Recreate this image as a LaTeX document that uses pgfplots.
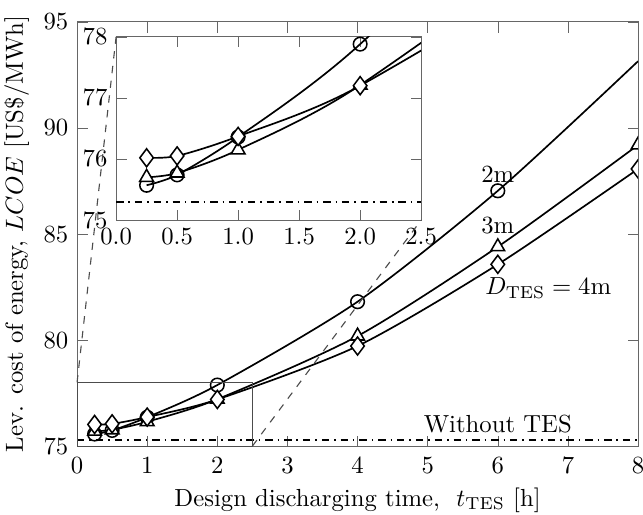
\documentclass[border=0pt]{standalone}
\usepackage{pgfplots}
\pgfplotsset{compat=1.18}

% LCOE versus design discharging time for three tank diameters
\pgfplotstableread{
t     lcoe
0.25  75.57
0.5   75.74
1.0   76.36
2.0   77.88
4.0   81.81
6.0   87.04
8.0   93.15
}\dtwo
\pgfplotstableread{
t     lcoe
0.25  75.70
0.5   75.77
1.0   76.15
2.0   77.21
4.0   80.19
6.0   84.40
8.0   89.20
}\dthree
\pgfplotstableread{
t     lcoe
0.25  76.02
0.5   76.05
1.0   76.37
2.0   77.20
4.0   79.72
6.0   83.57
8.0   88.07
}\dfour

\pgfplotsset{
  curve/.style={black, line width=0.68pt, smooth, tension=0.45,
    mark options={solid, fill=white, line width=0.62pt}},
  c2/.style={curve, mark=o, mark size=2.75pt, mark indices={1,2,3,4,5,6}},
  c3/.style={curve, mark=triangle*, mark size=3.2pt},
  c4/.style={curve, mark=diamond*, mark size=3.65pt},
}

\begin{document}
\begin{tikzpicture}
\begin{axis}[
  name=main,
  scale only axis,
  width=227.1pt, height=171.7pt,
  xmin=0, xmax=8, ymin=75, ymax=95,
  xtick={0,...,8}, ytick={75,80,...,95},
  axis line style={black!60},
  tick style={black!60},
  xticklabel style={yshift=-1pt},
  xlabel={Design discharging time,\ \ $t_{\mathrm{TES}}$ [h]},
  ylabel={Lev. cost of energy, $LCOE$ [US\$/MWh]},
  xlabel style={yshift=1pt},
  ylabel style={yshift=-1pt},
  clip=true,
  clip marker paths=true,
]
\addplot[black, line width=0.62pt, dash dot] coordinates {(0,75.3) (8,75.3)};
\addplot[c2] table {\dtwo};
\addplot[c3] table {\dthree};
\addplot[c4] table {\dfour};
\draw[black!70, line width=0.45pt] (axis cs:0,75) rectangle (axis cs:2.5,78);
\coordinate (zA) at (axis cs:0,78);
\coordinate (zB) at (axis cs:2.5,75);
\coordinate (O) at (rel axis cs:0,0);
\node at (axis cs:6.0,87.8) {2m};
\node at (axis cs:6.0,85.4) {3m};
\node at (axis cs:6.72,82.45) {$D_{\mathrm{TES}}=4\mathrm{m}$};
\node at (axis cs:6.0,76.05) {Without TES};
\end{axis}

\begin{axis}[
  at={(15.8pt,91.5pt)}, anchor=south west,
  scale only axis,
  width=123.5pt, height=74.2pt,
  xmin=0, xmax=2.5, ymin=75, ymax=78,
  xtick={0,0.5,...,2.5}, ytick={75,76,77,78},
  xticklabel style={/pgf/number format/.cd, fixed, fixed zerofill, precision=1},
  axis background/.style={fill=white},
  axis line style={black!60},
  tick style={black!60},
  clip=true,
]
\addplot[black, line width=0.62pt, dash dot] coordinates {(0,75.3) (2.5,75.3)};
\addplot[c2, mark=o, mark indices={}] table {\dtwo};
\addplot[c3] table {\dthree};
\addplot[c4] table {\dfour};
\coordinate (iA) at (axis cs:0,78);
\coordinate (iB) at (axis cs:2.5,75);
\end{axis}

\draw[black!70, dashed, line width=0.45pt] (zA) -- (iA);
\draw[black!70, dashed, line width=0.45pt] (zB) -- (iB);

% page frame around the plot
\pgfresetboundingbox
\path ([shift={(-31.2pt,-27.5pt)}]O) rectangle ++(260.3pt,208.1pt);
\end{tikzpicture}
\end{document}
